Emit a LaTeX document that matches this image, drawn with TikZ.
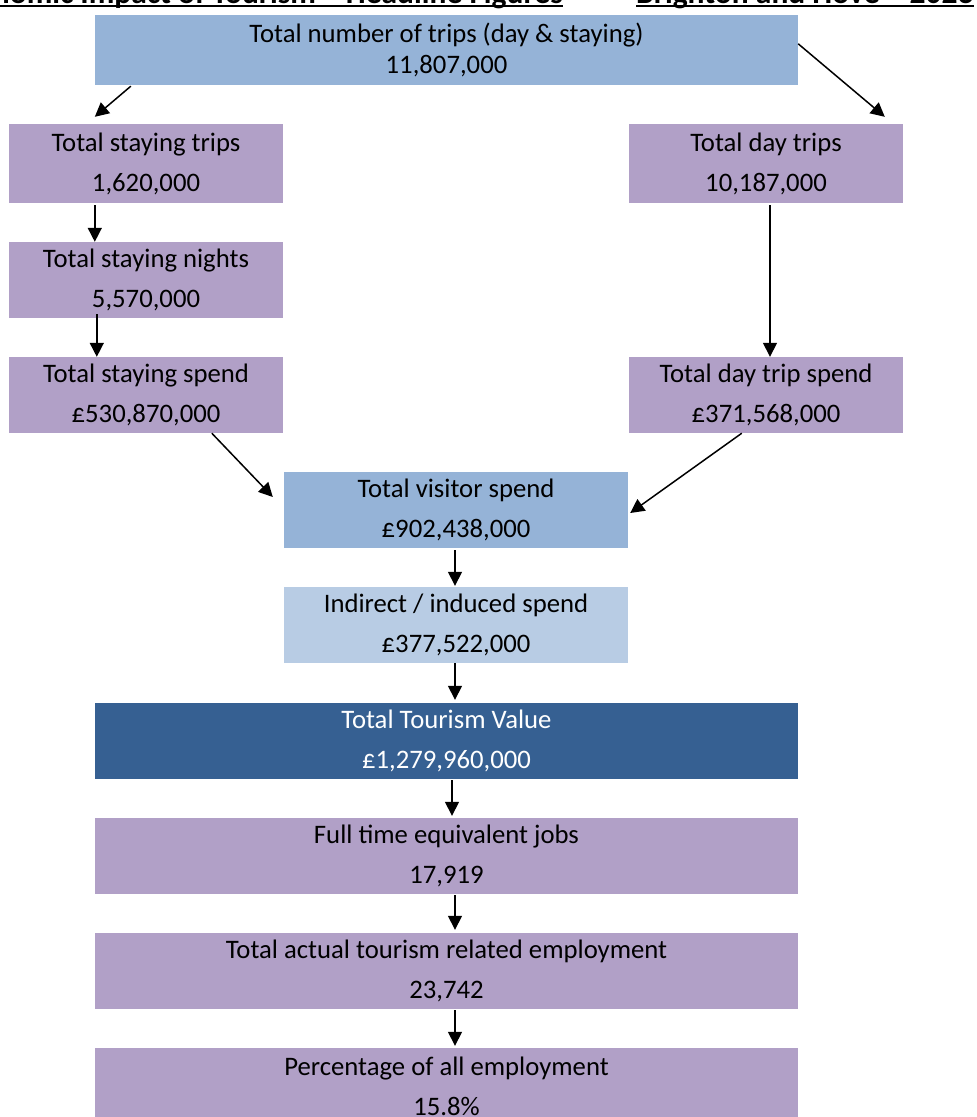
\documentclass[tikz,border=0pt]{standalone}
\usepackage{fontspec}
\setmainfont{Carlito}
\usetikzlibrary{calc,arrows.meta}
\definecolor{bluebox}{HTML}{95B3D7}
\definecolor{lightblue}{HTML}{B8CCE4}
\definecolor{darkblue}{HTML}{366092}
\definecolor{purplebox}{HTML}{B1A0C7}
\begin{document}
\begin{tikzpicture}[x=1pt,y=-1pt,
  box/.style={rectangle, inner sep=0pt, align=center, font=\fontsize{26.7}{40}\selectfont},
  wide/.style={box, minimum width=703pt, minimum height=76pt},
  side/.style={box, minimum width=274pt, minimum height=76pt, fill=purplebox},
  mid/.style={box, minimum width=344pt, minimum height=76pt},
  arr/.style={line width=1.5pt, -{Triangle[length=14pt,width=14pt]}},
  head/.style={inner sep=0pt, font=\fontsize{31.5}{34}\selectfont\bfseries},
  uline/.style={line width=2.4pt}]
\clip (0,0) rectangle (977,1117);
\fill[white] (0,0) rectangle (977,1117);

% header
\node[head, anchor=base east] (h1) at (563,3) {Economic Impact of Tourism – Headline Figures};
\node[head, anchor=base west] (h2) at (636,3) {Brighton and Hove – 2023};
\draw[uline] ($(h1.base west)+(0,3)$) -- ($(h1.base east)+(0,3)$);
\draw[uline] ($(h2.base west)+(0,3)$) -- ($(h2.base east)+(0,3)$);

% boxes
\node[wide, minimum height=70pt, fill=bluebox, font=\fontsize{26.7}{31}\selectfont] (top) at (446.5,50) {Total number of trips (day \& staying)\\11,807,000};
\node[side, minimum height=79pt] (stay) at (146,163.5) {Total staying trips\\1,620,000};
\node[side, minimum height=79pt] (day) at (766,163.5) {Total day trips\\10,187,000};
\node[side] (nights) at (146,280) {Total staying nights\\5,570,000};
\node[side] (sspend) at (146,395) {Total staying spend\\£530,870,000};
\node[side] (dspend) at (766,395) {Total day trip spend\\£371,568,000};
\node[mid, fill=bluebox] (visitor) at (456,510) {Total visitor spend\\£902,438,000};
\node[mid, fill=lightblue] (indirect) at (456,625) {Indirect / induced spend\\£377,522,000};
\node[wide, fill=darkblue, text=white] (ttv) at (446.5,741) {Total Tourism Value\\£1,279,960,000};
\node[wide, fill=purplebox] (fte) at (446.5,856) {Full time equivalent jobs\\17,919};
\node[wide, fill=purplebox] (emp) at (446.5,971) {Total actual tourism related employment\\23,742};
\node[wide, fill=purplebox] (pct) at (446.5,1086) {Percentage of all employment\\15.8\%};

% arrows
\draw[arr] ($(top.south west)+(36,1)$) -- ($(stay.north west)+(86,-7)$);
\draw[arr] ($(top.north east)+(0,29)$) -- ($(day.north west)+(256,-7)$);
\draw[arr] ($(stay.south west)+(86,2)$) -- ($(nights.north west)+(86,0)$);
\draw[arr] ($(nights.south west)+(88,-4)$) -- ($(sspend.north west)+(88,0)$);
\draw[arr] ($(day.south)+(4,2)$) -- ($(dspend.north)+(4,0)$);
\draw[arr] ($(sspend.south west)+(203,0)$) -- ($(visitor.west)+(-11,-13)$);
\draw[arr] ($(dspend.south west)+(113,0)$) -- ($(visitor.east)+(2,3)$);
\draw[arr] ($(visitor.south)+(-1,2)$) -- ($(indirect.north)+(-1,-1)$);
\draw[arr] ($(indirect.south)+(-1,0)$) -- ($(ttv.north)+(8.5,-3)$);
\draw[arr] ($(ttv.south)+(5.5,1)$) -- ($(fte.north)+(5.5,-2)$);
\draw[arr] ($(fte.south)+(8.5,1)$) -- ($(emp.north)+(8.5,-3)$);
\draw[arr] ($(emp.south)+(8.5,1)$) -- ($(pct.north)+(8.5,-2)$);
\end{tikzpicture}
\end{document}
